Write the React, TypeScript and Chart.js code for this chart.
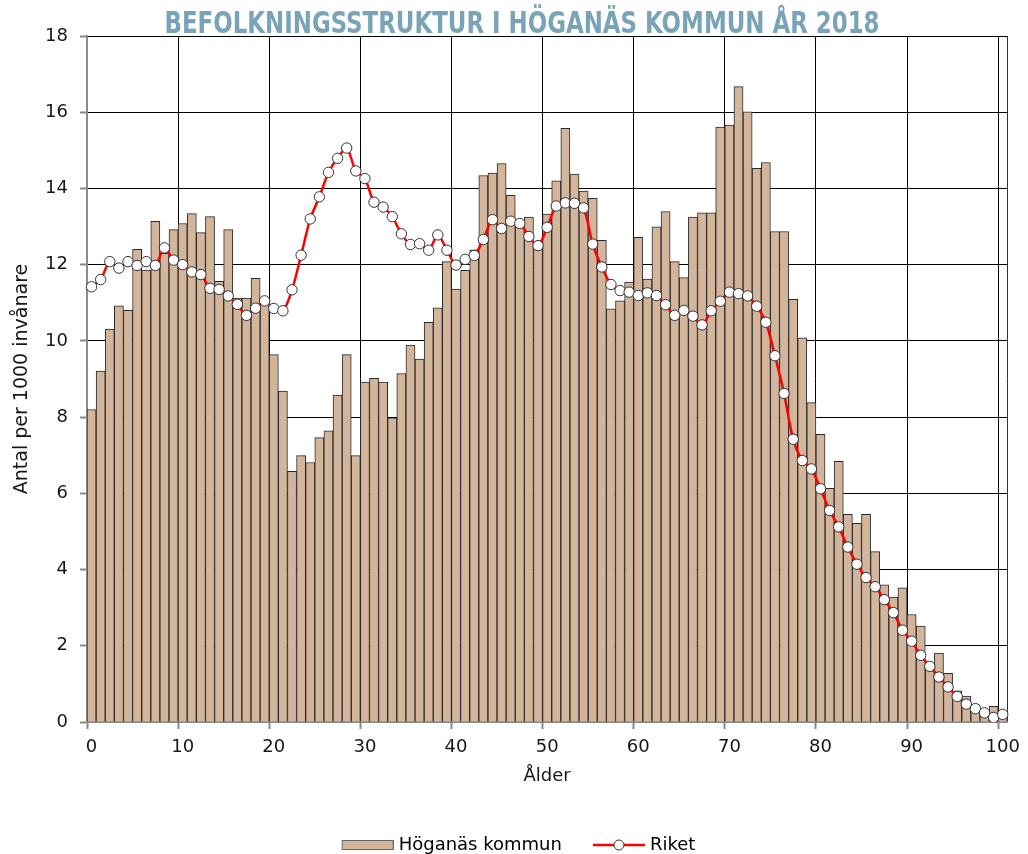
import React, { useEffect, useRef } from "react";
import { Chart, registerables } from "chart.js";

Chart.register(...registerables);

const TITLE = "BEFOLKNINGSSTRUKTUR I HÖGANÄS KOMMUN ÅR 2018";
const X_TITLE = "Ålder";
const Y_TITLE = "Antal per 1000 invånare";
const SERIES_NAMES = ["Höganäs kommun", "Riket"];

// Ages 0..100 (categories)
const ages: string[] = Array.from({ length: 101 }, (_, i) => String(i));

// Höganäs kommun, antal per 1000 invånare per ålder
const hoganas: number[] = [
  8.2, 9.21, 10.31, 10.92, 10.8, 12.4, 11.86, 13.14, 12.3, 12.92,
  13.08, 13.34, 12.84, 13.26, 11.56, 12.92, 11.12, 11.12, 11.64, 11.0,
  9.64, 8.68, 6.58, 6.99, 6.81, 7.46, 7.64, 8.58, 9.64, 6.99,
  8.92, 9.02, 8.92, 7.98, 9.14, 9.89, 9.52, 10.49, 10.87, 12.08,
  11.36, 11.85, 12.39, 14.34, 14.4, 14.65, 13.82, 13.0, 13.25, 12.6,
  13.33, 14.2, 15.58, 14.38, 13.93, 13.74, 12.64, 10.84, 11.05, 11.54,
  12.72, 11.62, 12.99, 13.39, 12.08, 11.66, 13.25, 13.36, 13.36, 15.61,
  15.66, 16.67, 16.01, 14.53, 14.68, 12.87, 12.87, 11.09, 10.08, 8.38,
  7.55, 6.13, 6.84, 5.45, 5.21, 5.45, 4.47, 3.6, 3.28, 3.52,
  2.82, 2.52, 1.55, 1.81, 1.28, 0.82, 0.68, 0.45, 0.25, 0.41, 0.12,
];

// Riket
const riket: number[] = [
  11.42, 11.61, 12.08, 11.91, 12.08, 11.98, 12.08, 11.98, 12.44, 12.12,
  12.0, 11.81, 11.74, 11.38, 11.35, 11.18, 10.96, 10.67, 10.86, 11.05,
  10.85, 10.79, 11.34, 12.25, 13.2, 13.78, 14.42, 14.79, 15.06, 14.46,
  14.26, 13.64, 13.51, 13.26, 12.81, 12.53, 12.55, 12.38, 12.78, 12.38,
  11.99, 12.14, 12.24, 12.66, 13.18, 12.95, 13.14, 13.08, 12.74, 12.5,
  12.98, 13.54, 13.62, 13.61, 13.49, 12.54, 11.94, 11.48, 11.32, 11.28,
  11.19, 11.26, 11.19, 10.95, 10.67, 10.8, 10.65, 10.42, 10.79, 11.04,
  11.28, 11.24, 11.18, 10.91, 10.49, 9.61, 8.62, 7.42, 6.86, 6.64,
  6.12, 5.55, 5.12, 4.59, 4.14, 3.79, 3.55, 3.21, 2.87, 2.41,
  2.12, 1.75, 1.46, 1.18, 0.92, 0.67, 0.47, 0.35, 0.24, 0.12, 0.2,
];

const Y_MIN = 0;
const Y_MAX = 18;
const Y_STEP = 2;
const X_LABEL_EVERY = 10;

const BAR_FILL = "#D3B59C";
const BAR_BORDER = "#2a2a2a";
const LINE_COLOR = "#FF0000";
const TITLE_COLOR = "#79A4B8";
const AXIS_GRAY = "#8a8a8a";
const TEXT_COLOR = "#161616";
const FONT = "'DejaVu Sans', 'Liberation Sans', sans-serif";

const CANVAS_W = 1028;
const CANVAS_H = 864;
const AREA_LEFT = 87;
const AREA_TOP = 36;
const AREA_BOTTOM = 722;
const PAD_RIGHT = 18;
const LEGEND_BOX_W = 75;

function makeIcon(kind: "bar" | "line"): HTMLCanvasElement {
  const c = document.createElement("canvas");
  const w = LEGEND_BOX_W + 8;
  c.width = w;
  c.height = 16;
  const g = c.getContext("2d")!;
  const x0 = w - 52;
  if (kind === "bar") {
    g.fillStyle = BAR_FILL;
    g.fillRect(x0, 3, 52, 10);
    g.strokeStyle = "#6a6a6a";
    g.lineWidth = 1;
    g.strokeRect(x0 + 0.5, 3.5, 51, 9);
  } else {
    g.strokeStyle = LINE_COLOR;
    g.lineWidth = 2.5;
    g.beginPath();
    g.moveTo(x0, 8);
    g.lineTo(w, 8);
    g.stroke();
    g.beginPath();
    g.arc(x0 + 26, 8, 5, 0, Math.PI * 2);
    g.fillStyle = "#ffffff";
    g.fill();
    g.strokeStyle = "#333333";
    g.lineWidth = 1;
    g.stroke();
  }
  return c;
}

const titlePlugin = {
  id: "customTitle",
  afterDraw(chart: any) {
    const ctx = chart.ctx as CanvasRenderingContext2D;
    ctx.save();
    ctx.font = "bold 30px 'Liberation Sans Narrow', 'DejaVu Sans Condensed', 'Liberation Sans', sans-serif";
    ctx.fillStyle = TITLE_COLOR;
    ctx.textBaseline = "alphabetic";
    ctx.textAlign = "center";
    const w = ctx.measureText(TITLE).width;
    const sx = 715 / w;
    ctx.translate(522, 33);
    ctx.scale(sx, 1);
    ctx.fillText(TITLE, 0, 0);
    ctx.restore();
  },
};

export default function App() {
  const ref = useRef<HTMLCanvasElement>(null);

  useEffect(() => {
    const canvas = ref.current;
    if (!canvas) return;
    const iconBar = makeIcon("bar");
    const iconLine = makeIcon("line");

    const chart = new Chart(canvas, {
      type: "bar",
      data: {
        labels: ages,
        datasets: [
          {
            type: "bar",
            label: SERIES_NAMES[0],
            data: hoganas,
            backgroundColor: BAR_FILL,
            borderColor: BAR_BORDER,
            borderWidth: 1,
            barPercentage: 1,
            categoryPercentage: 1,
            order: 2,
          } as any,
          {
            type: "line",
            label: SERIES_NAMES[1],
            data: riket,
            borderColor: LINE_COLOR,
            borderWidth: 2.5,
            tension: 0.3,
            pointRadius: 5.2,
            pointBackgroundColor: "#ffffff",
            pointBorderColor: "#333333",
            pointBorderWidth: 1,
            fill: false,
            order: 1,
          } as any,
        ],
      },
      options: {
        responsive: false,
        animation: false,
        devicePixelRatio: 1,
        layout: { padding: { top: AREA_TOP, right: PAD_RIGHT, bottom: 0, left: 0 } },
        plugins: {
          title: { display: false },
          tooltip: { enabled: false },
          legend: {
            display: true,
            position: "bottom",
            labels: {
              usePointStyle: true,
              pointStyleWidth: LEGEND_BOX_W,
              padding: 4,
              color: TEXT_COLOR,
              font: { family: FONT, size: 18 },
              generateLabels: () => [
                {
                  text: SERIES_NAMES[0],
                  pointStyle: iconBar,
                  fillStyle: BAR_FILL,
                  strokeStyle: BAR_BORDER,
                  lineWidth: 0,
                  hidden: false,
                  datasetIndex: 0,
                },
                {
                  text: SERIES_NAMES[1],
                  pointStyle: iconLine,
                  fillStyle: "#ffffff",
                  strokeStyle: LINE_COLOR,
                  lineWidth: 0,
                  hidden: false,
                  datasetIndex: 1,
                },
              ] as any,
            },
          },
        },
        scales: {
          x: {
            type: "category",
            offset: true,
            grid: {
              offset: true,
              drawOnChartArea: true,
              lineWidth: 1,
              tickLength: 7,
              tickWidth: 2,
              color: (c: any) => {
                if (c.index === undefined) return "#333333";
                if (c.index === 0) return "rgba(0,0,0,0)";
                return c.index % X_LABEL_EVERY === 0 ? "#000000" : "rgba(0,0,0,0)";
              },
              tickColor: (c: any) => {
                if (c.index === undefined) return "rgba(0,0,0,0)";
                return c.index % X_LABEL_EVERY === 0 ? AXIS_GRAY : "rgba(0,0,0,0)";
              },
            },
            border: { display: true, color: AXIS_GRAY, width: 2 },
            ticks: {
              autoSkip: false,
              maxRotation: 0,
              minRotation: 0,
              padding: 8,
              color: TEXT_COLOR,
              font: { family: FONT, size: 18 },
              callback: (_v: any, i: number) => (i % X_LABEL_EVERY === 0 ? ages[i] : ""),
            },
            title: {
              display: true,
              text: X_TITLE,
              color: TEXT_COLOR,
              font: { family: FONT, size: 18 },
              padding: { top: 0, bottom: 45 },
            },
            afterFit: (s: any) => {
              const lh = s.chart.legend ? s.chart.legend.height : 0;
              s.height = s.chart.height - AREA_BOTTOM - lh;
            },
          } as any,
          y: {
            min: Y_MIN,
            max: Y_MAX,
            grid: {
              lineWidth: 1,
              tickLength: 7,
              tickWidth: 2,
              color: (c: any) => (c.tick && c.tick.value === 0 ? "rgba(0,0,0,0)" : "#000000"),
              tickColor: AXIS_GRAY,
            },
            border: { display: true, color: AXIS_GRAY, width: 2 },
            ticks: {
              stepSize: Y_STEP,
              padding: 12,
              color: TEXT_COLOR,
              font: { family: FONT, size: 18 },
            },
            title: {
              display: true,
              text: Y_TITLE,
              color: TEXT_COLOR,
              font: { family: FONT, size: 19 },
              padding: { top: 11, bottom: 0 },
            },
            afterFit: (s: any) => {
              s.width = AREA_LEFT;
            },
          } as any,
        },
      },
      plugins: [titlePlugin],
    });
    return () => chart.destroy();
  }, []);

  return (
    <div
      style={{
        position: "fixed",
        left: 0,
        top: 0,
        width: CANVAS_W,
        height: 854,
        overflow: "hidden",
        background: "#ffffff",
      }}
    >
      <canvas ref={ref} width={CANVAS_W} height={CANVAS_H} style={{ display: "block" }} />
    </div>
  );
}
